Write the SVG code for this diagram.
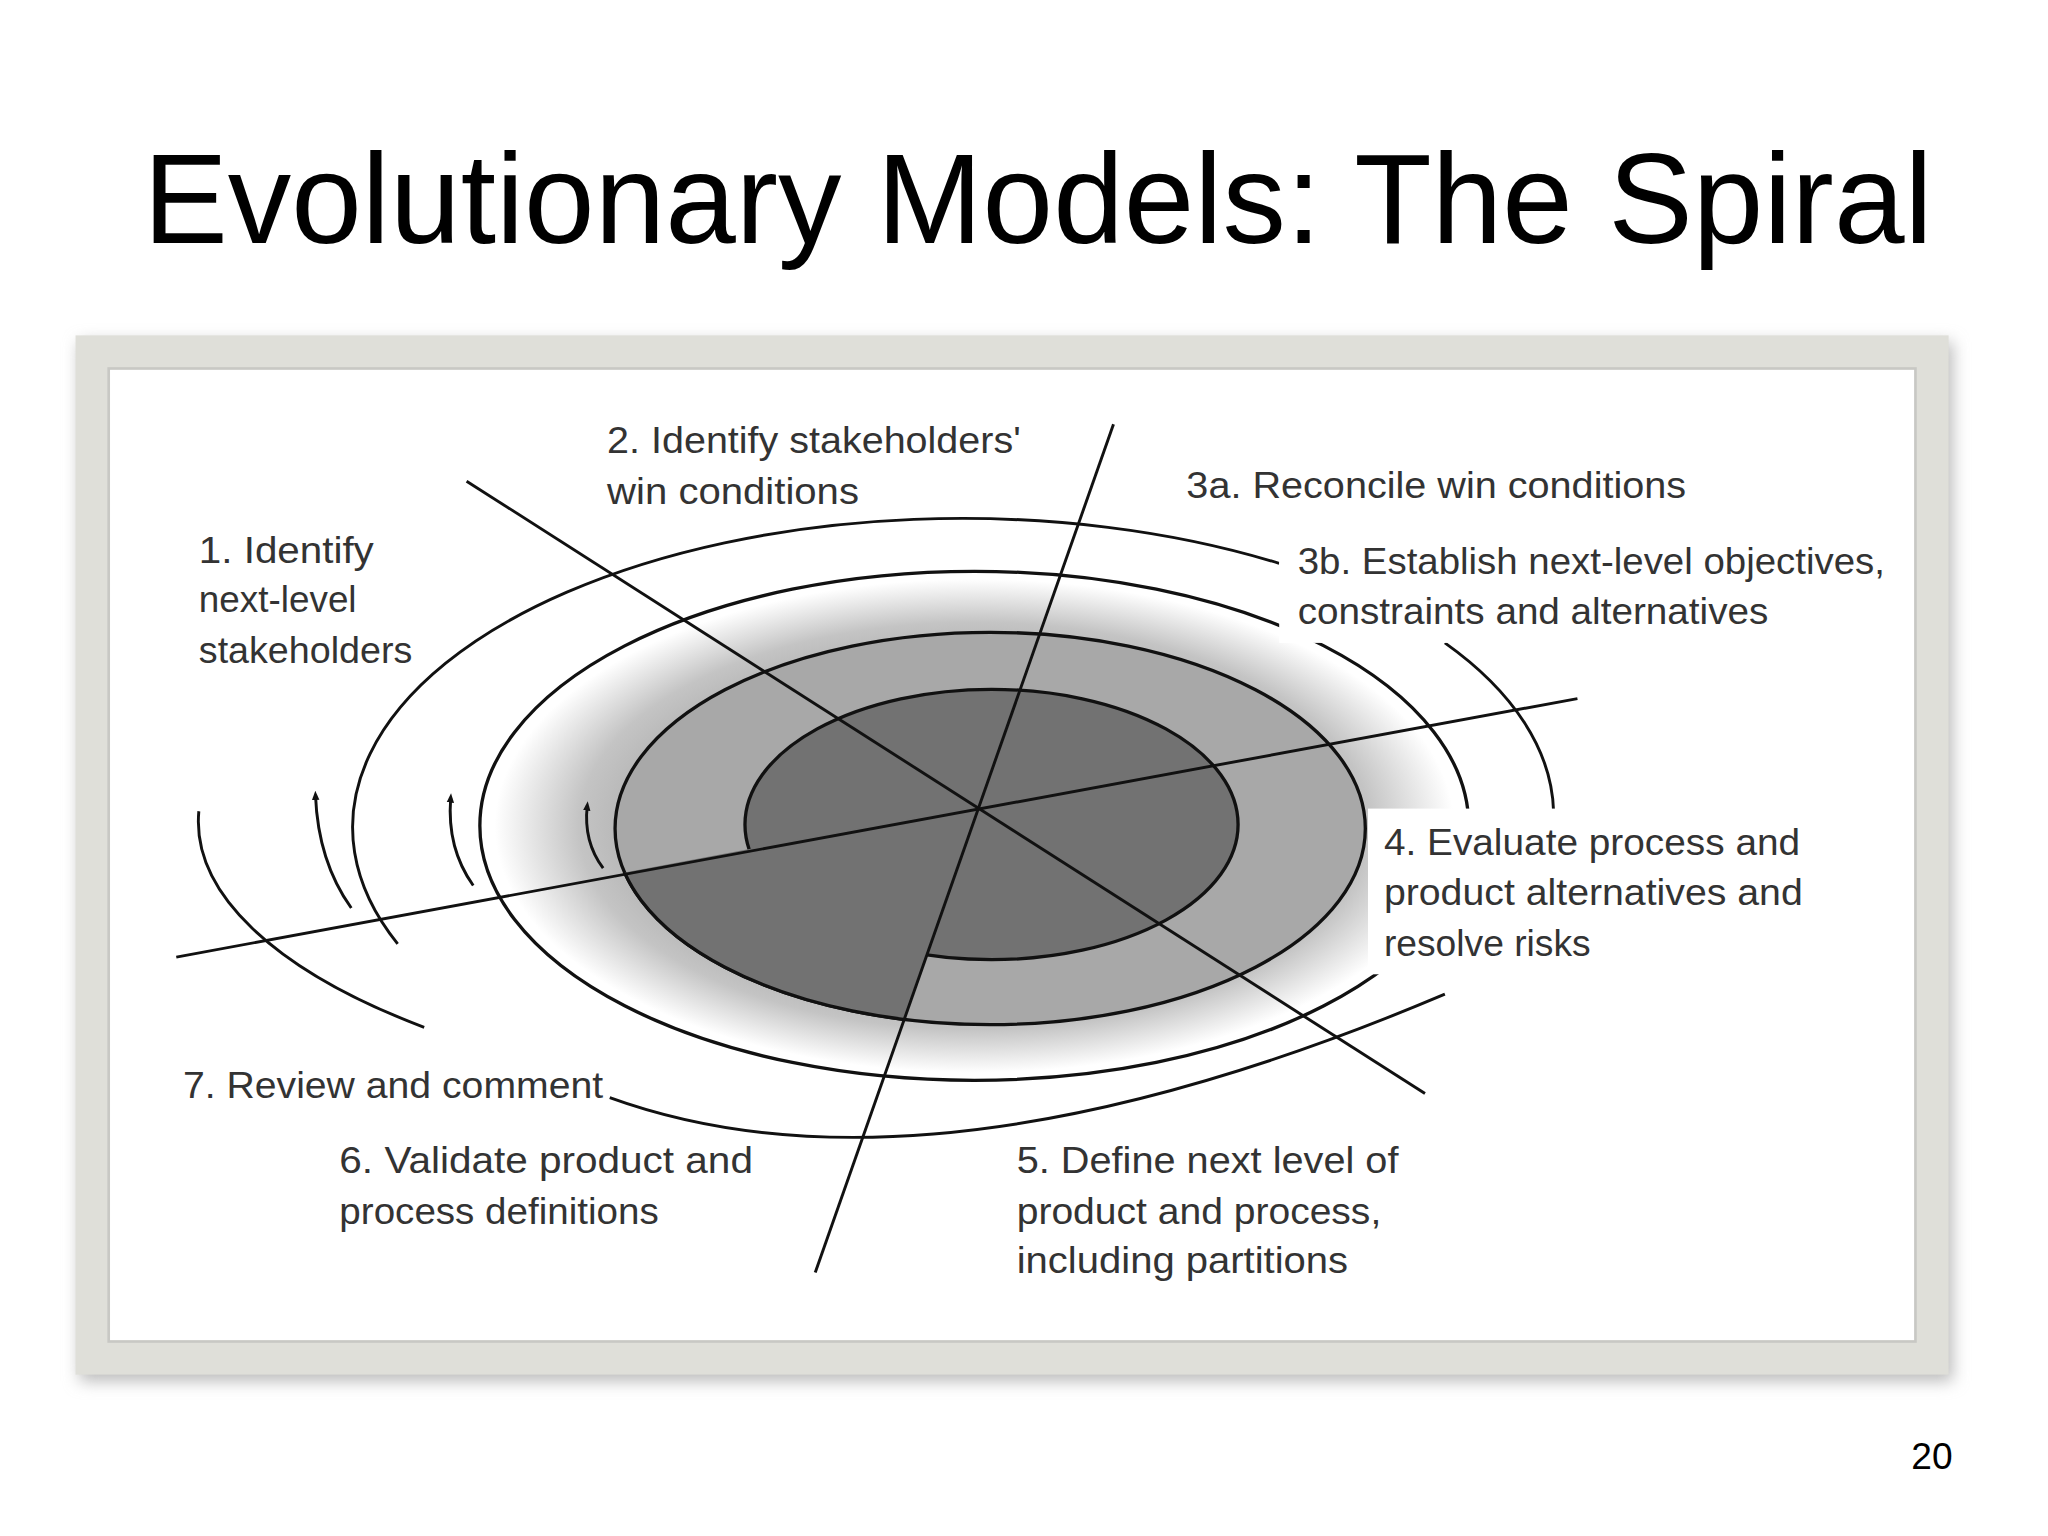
<svg xmlns="http://www.w3.org/2000/svg" width="2048" height="1536" viewBox="0 0 2048 1536">
<defs>
<radialGradient id="glow" cx="0.5" cy="0.5" r="0.5">
<stop offset="0.6" stop-color="#a8a8a8"/>
<stop offset="0.8" stop-color="#c4c4c4"/>
<stop offset="0.97" stop-color="#ffffff"/>
</radialGradient>
<marker id="ah" viewBox="0 0 10 10" refX="5" refY="5" markerWidth="7" markerHeight="9" orient="auto" markerUnits="userSpaceOnUse">
<path d="M0,1 L10,5 L0,9 z" fill="#111"/>
</marker>
<clipPath id="wedge"><polygon points="738,608 133,722 133,1000 615,960"/></clipPath>
<filter id="sh" x="-5%" y="-5%" width="110%" height="110%"><feGaussianBlur stdDeviation="6"/></filter>
</defs>
<style>
.l{font-family:"Liberation Sans",Arial,sans-serif;font-size:28px;fill:#333}
.t{fill:none;stroke:#111;stroke-width:2.2}
.e{stroke:#111;stroke-width:2.5}
</style>
<rect width="2048" height="1536" fill="#fff"/>
<g transform="scale(1.32557)">
<text x="108" y="183" font-family="'Liberation Sans',Arial,sans-serif" font-size="96" fill="#000" textLength="1350" lengthAdjust="spacingAndGlyphs">Evolutionary Models: The Spiral</text>
<g id="frame">
<rect x="60" y="258" width="1413" height="784" fill="#bbb" filter="url(#sh)"/>
<rect x="57" y="253" width="1413" height="784" fill="#dfdfd9"/>
<rect x="82" y="278" width="1363" height="734" fill="#fff" stroke="#c8c8c4" stroke-width="2"/>
</g>
<g id="spiral">
<ellipse cx="735" cy="623" rx="373" ry="192" fill="url(#glow)" class="e"/>
<ellipse cx="747" cy="625" rx="283" ry="148" fill="#a8a8a8" class="e"/>
<ellipse cx="748" cy="622" rx="186" ry="102" fill="#727272" class="e"/>
<g clip-path="url(#wedge)">
<ellipse cx="747" cy="625" rx="283" ry="148" fill="#727272" class="e"/>
</g>
</g>
<g id="connectors">
<line x1="352" y1="363" x2="1075" y2="825" class="t"/>
<line x1="840" y1="320" x2="615" y2="960" class="t"/>
<line x1="1190" y1="527" x2="133" y2="722" class="t"/>
<path d="M965,425 A460,233 0 0 0 300,712" class="t"/>
<path d="M1090,485 A432,222 0 0 1 1172,612" class="t"/>
<path d="M150,612 A590,221 0 0 0 320,775" class="t"/>
<path d="M460,828 Q700,915 1090,750" class="t"/>
<path d="M265,685 Q240,650 238,600" class="t" marker-end="url(#ah)"/>
<path d="M357,668 Q337,640 340,602" class="t" marker-end="url(#ah)"/>
<path d="M455,655 Q440,635 443,608" class="t" marker-end="url(#ah)"/>
</g>
<rect x="965" y="405" width="465" height="80" fill="#fff"/>
<rect x="1032" y="610" width="340" height="125" fill="#fff"/>
<g id="labels">
<text class="l" x="458" y="342" textLength="312" lengthAdjust="spacingAndGlyphs">2. Identify stakeholders'</text>
<text class="l" x="458" y="380" textLength="190" lengthAdjust="spacingAndGlyphs">win conditions</text>
<text class="l" x="895" y="376" textLength="377" lengthAdjust="spacingAndGlyphs">3a. Reconcile win conditions</text>
<text class="l" x="150" y="425" textLength="132" lengthAdjust="spacingAndGlyphs">1. Identify</text>
<text class="l" x="150" y="462" textLength="119" lengthAdjust="spacingAndGlyphs">next-level</text>
<text class="l" x="150" y="500" textLength="161" lengthAdjust="spacingAndGlyphs">stakeholders</text>
<text class="l" x="979" y="433" textLength="443" lengthAdjust="spacingAndGlyphs">3b. Establish next-level objectives,</text>
<text class="l" x="979" y="471" textLength="355" lengthAdjust="spacingAndGlyphs">constraints and alternatives</text>
<text class="l" x="1044" y="645" textLength="314" lengthAdjust="spacingAndGlyphs">4. Evaluate process and</text>
<text class="l" x="1044" y="683" textLength="316" lengthAdjust="spacingAndGlyphs">product alternatives and</text>
<text class="l" x="1044" y="721" textLength="156" lengthAdjust="spacingAndGlyphs">resolve risks</text>
<text class="l" x="138" y="828" textLength="317" lengthAdjust="spacingAndGlyphs">7. Review and comment</text>
<text class="l" x="256" y="885" textLength="312" lengthAdjust="spacingAndGlyphs">6. Validate product and</text>
<text class="l" x="256" y="923" textLength="241" lengthAdjust="spacingAndGlyphs">process definitions</text>
<text class="l" x="767" y="885" textLength="288" lengthAdjust="spacingAndGlyphs">5. Define next level of</text>
<text class="l" x="767" y="923" textLength="275" lengthAdjust="spacingAndGlyphs">product and process,</text>
<text class="l" x="767" y="960" textLength="250" lengthAdjust="spacingAndGlyphs">including partitions</text>
</g>
<text x="1473" y="1108" text-anchor="end" font-family="'Liberation Sans',Arial,sans-serif" font-size="28" fill="#000">20</text>
</g>
</svg>
